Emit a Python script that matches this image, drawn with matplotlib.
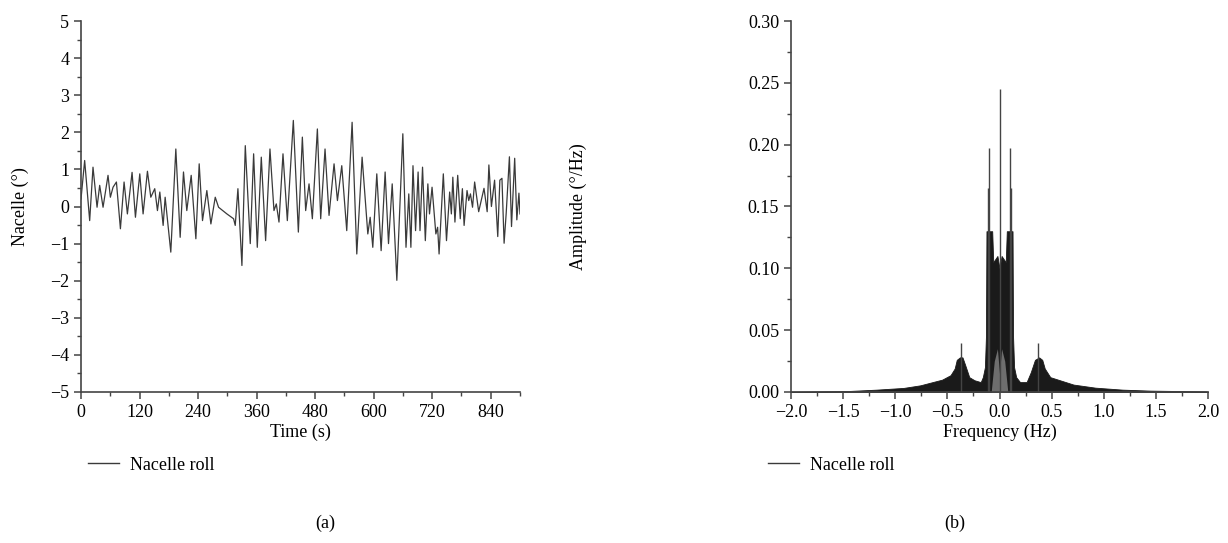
import matplotlib
matplotlib.use("Agg")
import matplotlib.pyplot as plt
from matplotlib.lines import Line2D
from matplotlib.ticker import MultipleLocator

plt.rcParams['font.family'] = ['Liberation Serif', 'DejaVu Serif']
plt.rcParams['font.size'] = 13

# (a) nacelle roll time history (turning points)
time_s = [0, 7.5, 17.8, 24.6, 32.9, 38.3, 45.2, 55.4, 60.2, 65.7, 72.6, 80.8, 88.3, 95.1,
          104.7, 111.6, 120.5, 127.3, 136.2, 143.1, 151.2, 156.7, 161.6, 168.4,
          172.5, 184.1, 194.4, 203.3, 210.1, 216.9, 225.9, 235.5, 242.3, 249.1, 258, 266.3,
          275.2, 282, 299.1, 312.8, 316.2, 321.7, 329.9, 336.8, 347, 353.9,
          361.4, 369.6, 378.5, 387.4, 395.6, 400.4, 405.9, 414.1, 423, 435.3, 445.6, 453.8,
          460.6, 467.5, 474.3, 484.6, 491.4, 500.3, 508.5, 518.8, 525.7, 534.6,
          544.8, 555.8, 565.4, 576.3, 588, 592.8, 598.2, 606.4, 615.3, 623.5, 630.4, 638,
          647.5, 659.8,
          666.3, 672.0, 676.3, 680.6, 685.9, 691.1, 695.0, 700.2, 705.9, 711.1, 714.5, 719.7,
          727.5, 731.1, 734.1, 742.8, 749.3, 755.8, 759.3, 762.3, 766.6, 772.3, 777.5, 781.9,
          785.4, 791.4, 794.9, 798.4, 802.7, 807.0, 815.3, 826.2, 832.7, 836.2, 841.4, 847.9,
          854.4, 858.7, 863.0, 867.4, 871.7, 878.3, 882.6, 889.1, 893.5, 897.8, 900.0]
roll_deg = [0.2, 1.24, -0.38, 1.06, -0.02, 0.57, -0.02, 0.84, 0.25, 0.52, 0.66, -0.60, 0.66, -0.2,
            0.92, -0.29, 0.88, -0.2, 0.95, 0.25, 0.48, -0.11, 0.39, -0.51,
            0.25, -1.23, 1.55, -0.83, 0.93, -0.11, 0.84, -0.87, 1.15, -0.38, 0.43, -0.47,
            0.25, -0.02, -0.2, -0.33, -0.51, 0.48, -1.59, 1.64, -1.0, 1.42,
            -1.10, 1.33, -0.92, 1.55, -0.11, 0.07, -0.42, 1.42, -0.38, 2.32, -0.69, 1.87,
            -0.11, 0.61, -0.33, 2.09, -0.33, 1.55, -0.24, 1.15, 0.16, 1.1,
            -0.65, 2.27, -1.28, 1.33, -0.74, -0.29, -1.10, 0.88, -1.19, 0.93, -1.0, 0.61,
            -1.99, 1.96,
            -1.10, 0.34, -1.10, 1.1, -0.65, 0.93, -0.65, 1.06, -0.92, 0.61, -0.2, 0.52,
            -0.74, -0.56, -1.28, 0.88, -0.92, 0.39, -0.2, 0.79, -0.42, 0.84, -0.33, 0.48,
            -0.51, 0.43, 0.16, 0.34, -0.02, 0.66, -0.14, 0.49, -0.14, 1.12, 0.0, 0.71,
            -0.81, 0.71, 0.76, -0.99, -0.18, 1.34, -0.54, 1.3, -0.36, 0.36, -0.2]

# (b) amplitude spectrum: upper edge of the dense band
freq_hz = [-2.0, -1.45, -1.18, -0.92, -0.76, -0.66, -0.55, -0.47, -0.43, -0.41, -0.38, -0.355,
           -0.33, -0.29, -0.24, -0.18, -0.16, -0.14, -0.13, -0.125, -0.07, -0.06, -0.02,
           0.0, 0.02, 0.06, 0.07, 0.125, 0.13, 0.14, 0.16, 0.197, 0.26, 0.30, 0.34, 0.38,
           0.41, 0.434, 0.487, 0.58, 0.71, 0.92, 1.18, 1.45, 1.97, 2.0]
amp_env = [0.0003, 0.0008, 0.0019, 0.0033, 0.0054, 0.0076, 0.010, 0.0136, 0.019, 0.026, 0.028,
           0.028, 0.022, 0.012, 0.0095, 0.008, 0.012, 0.02, 0.045, 0.13, 0.13, 0.105, 0.11,
           0.10, 0.11, 0.105, 0.13, 0.13, 0.045, 0.02, 0.012, 0.008, 0.008, 0.016, 0.026, 0.028,
           0.026, 0.019, 0.012, 0.0095, 0.006, 0.0035, 0.0019, 0.0011, 0.0005, 0.0003]
# lighter core near 0 Hz
core_hz = [-0.08, -0.05, -0.02, 0.0, 0.02, 0.05, 0.08]
core_amp = [0.0, 0.025, 0.035, 0.015, 0.035, 0.025, 0.0]
# isolated spectral lines
spike_hz = [-0.365, -0.115, -0.10, 0.0, 0.10, 0.115, 0.37]
spike_amp = [0.040, 0.165, 0.197, 0.245, 0.197, 0.165, 0.040]

fig = plt.figure(figsize=(12.28, 5.43), dpi=100)
ax1 = fig.add_axes([81 / 1228, 1 - 392 / 543, 439 / 1228, 371 / 543])
ax2 = fig.add_axes([791 / 1228, 1 - 392 / 543, 417 / 1228, 371 / 543])

line_col = '#3a3a3a'
ax1.plot(time_s, roll_deg, color=line_col, lw=0.9)
ax1.set_xlim(0, 900)
ax1.set_ylim(-5, 5)
ax1.xaxis.set_major_locator(MultipleLocator(120))
ax1.xaxis.set_minor_locator(MultipleLocator(60))
ax1.yaxis.set_major_locator(MultipleLocator(1))
ax1.yaxis.set_minor_locator(MultipleLocator(0.5))
ax1.set_xlabel('Time (s)', labelpad=2)
ax1.set_ylabel('Nacelle (°)')
ax1.yaxis.set_label_coords(-0.118, 0.5)

ax2.fill_between(freq_hz, 0, amp_env, color='#1a1a1a', lw=0.6, edgecolor='#1a1a1a')
ax2.fill_between(core_hz, 0, core_amp, color='#6e6e6e', lw=0)
ax2.vlines(spike_hz, 0, spike_amp, color='#444444', lw=1.0)
ax2.axhline(0, color='#555555', lw=0.8)
ax2.set_xlim(-2, 2)
ax2.set_ylim(0, 0.30)
ax2.xaxis.set_major_locator(MultipleLocator(0.5))
ax2.xaxis.set_minor_locator(MultipleLocator(0.25))
ax2.yaxis.set_major_locator(MultipleLocator(0.05))
ax2.yaxis.set_minor_locator(MultipleLocator(0.025))
ax2.set_xlabel('Frequency (Hz)', labelpad=2)
ax2.set_ylabel('Amplitude (°/Hz)')
ax2.yaxis.set_label_coords(-0.49, 0.5)

for ax in (ax1, ax2):
    for s in ('top', 'right'):
        ax.spines[s].set_visible(False)
    for s in ('left', 'bottom'):
        ax.spines[s].set_color('#444444')
        ax.spines[s].set_linewidth(1.2)
    ax.tick_params(which='major', direction='out', length=5, width=1.1, color='#444444')
    ax.tick_params(which='minor', direction='out', length=3, width=1.0, color='#444444')

handle = [Line2D([], [], color=line_col, lw=1)]
fig.legend(handle, ['Nacelle roll'], loc='center left', bbox_to_anchor=(72 / 1228, 1 - 465 / 543),
           frameon=False, handlelength=1.7, handletextpad=0.6)
fig.legend(handle, ['Nacelle roll'], loc='center left', bbox_to_anchor=(752 / 1228, 1 - 465 / 543),
           frameon=False, handlelength=1.7, handletextpad=0.6)
fig.text(325 / 1228, 1 - 523 / 543, '(a)', ha='center', va='center')
fig.text(955 / 1228, 1 - 523 / 543, '(b)', ha='center', va='center')

fig.savefig('out.png', dpi=100)
